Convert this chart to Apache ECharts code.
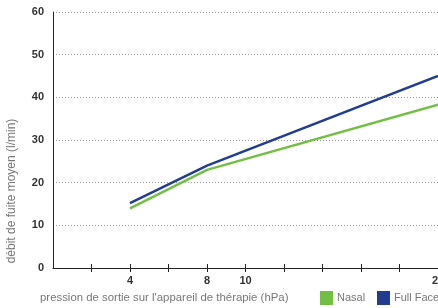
<!DOCTYPE html>
<html>
<head>
<meta charset="utf-8">
<script src="https://cdn.jsdelivr.net/npm/echarts@6/dist/echarts.min.js"></script>
<style>
  html, body { margin: 0; padding: 0; background: #fff; }
  #chart { width: 438px; height: 308px; }
</style>
</head>
<body>
<div id="chart"></div>
<script>
// pression (hPa) et débit de fuite (l/min)
const pressures = [4, 8, 20];
const nasal = [14, 23, 38.3];
const fullFace = [15.2, 24, 45];
const xLabels = [4, 8, 10, 20];

const font = '"Liberation Sans", Arial, sans-serif';
const chart = echarts.init(document.getElementById('chart'));

// une légende par série, pour les placer comme sur l'original
const legendItem = (name, left) => ({
  left: left,
  top: 291,
  padding: 0,
  itemWidth: 13,
  itemHeight: 14,
  itemGap: 0,
  icon: 'rect',
  textStyle: { color: '#777', fontSize: 11, fontFamily: font, padding: [0, 0, 0, -1] },
  data: [name]
});

const optionData = {
  animation: false,
  textStyle: { fontFamily: font },
  grid: { left: 53, right: 0, top: 12, bottom: 40, outerBoundsMode: 'none' },
  legend: [legendItem('Nasal', 320), legendItem('Full Face', 377)],
  xAxis: [{
    type: 'value',
    min: 0,
    max: 20,
    interval: 2,
    axisLine: { lineStyle: { color: '#222', width: 1 } },
    axisTick: { length: 4, lineStyle: { color: '#222' } },
    axisLabel: {
      color: '#333',
      fontWeight: 'bold',
      fontSize: 11,
      margin: 7,
      showMinLabel: false,
      hideOverlap: false,
      formatter: v => xLabels.includes(v) ? String(v) : ''
    },
    splitLine: { show: false }
  }, {
    type: 'value',
    position: 'bottom',
    min: 0,
    max: 20,
    interval: 2,
    axisLine: { show: false },
    axisTick: { inside: true, length: 4, lineStyle: { color: '#222' } },
    axisLabel: { show: false },
    splitLine: { show: false }
  }],
  yAxis: {
    type: 'value',
    min: 0,
    max: 60,
    interval: 10,
    axisLine: { show: true, lineStyle: { color: '#222', width: 1 } },
    axisTick: { show: false },
    axisLabel: { color: '#333', fontWeight: 'bold', fontSize: 11, margin: 9 },
    splitLine: { lineStyle: { color: '#999', type: [1, 2], width: 1 } }
  },
  graphic: [{
    type: 'text',
    x: 12,
    y: 191,
    rotation: Math.PI / 2,
    style: {
      text: 'débit de fuite moyen (l/min)',
      fill: '#777',
      font: '12px ' + font,
      textAlign: 'center',
      textVerticalAlign: 'middle'
    }
  }, {
    type: 'text',
    x: 40,
    y: 298,
    style: {
      text: "pression de sortie sur l'appareil de thérapie (hPa)",
      fill: '#777',
      font: '11.4px ' + font,
      textVerticalAlign: 'middle'
    }
  }],
  series: [{
    name: 'Nasal',
    type: 'line',
    showSymbol: false,
    color: '#72bf44',
    lineStyle: { width: 2.5 },
    data: pressures.map((p, i) => [p, nasal[i]])
  }, {
    name: 'Full Face',
    type: 'line',
    showSymbol: false,
    color: '#223d8f',
    lineStyle: { width: 2.5 },
    data: pressures.map((p, i) => [p, fullFace[i]])
  }]
};

chart.setOption(optionData);
</script>
</body>
</html>
